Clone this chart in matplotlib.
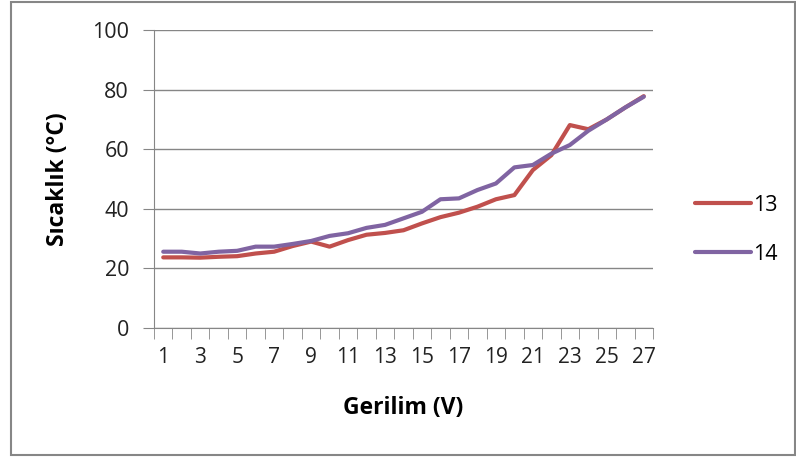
import matplotlib
matplotlib.use("Agg")
import matplotlib.pyplot as plt
from matplotlib.patches import Rectangle

# voltage steps (categories) and measured temperatures
gerilim = list(range(1, 28))
seri_13 = [23.7, 23.7, 23.6, 23.9, 24.1, 25.0, 25.6, 27.5, 29.0, 27.3, 29.5, 31.3, 31.9, 32.8,
           35.1, 37.2, 38.7, 40.7, 43.2, 44.6, 53.0, 58.0, 68.1, 66.7, 70.0, 74.0, 77.8]
seri_14 = [25.6, 25.6, 25.0, 25.6, 25.9, 27.3, 27.3, 28.2, 29.2, 30.9, 31.8, 33.6, 34.6, 36.8,
           39.0, 43.2, 43.5, 46.3, 48.5, 53.9, 54.7, 58.5, 61.4, 66.2, 70.0, 74.0, 77.6]
xtick_labels = [str(v) for v in gerilim[::2]]
yticks = [0, 20, 40, 60, 80, 100]

plt.rcParams["font.family"] = ["Open Sans", "DejaVu Sans"]
fig = plt.figure(figsize=(7.96, 4.59), dpi=100)
ax = fig.add_axes([154/796, 1-328/459, 499/796, 298/459])

xs = list(range(len(gerilim)))
ax.plot(xs, seri_13, color="#C0504D", lw=3.0, label="13", solid_capstyle="round", zorder=3)
ax.plot(xs, seri_14, color="#8064A2", lw=3.0, label="14", solid_capstyle="round", zorder=4)

ax.set_xlim(-0.5, len(gerilim) - 0.5)
ax.set_ylim(0, 100)
ax.set_yticks(yticks)
ax.set_yticklabels([str(v) for v in yticks])
ax.set_xticks(xs[::2])
ax.set_xticklabels(xtick_labels)
ax.set_xticks([i - 0.5 for i in range(len(gerilim) + 1)], minor=True)
ax.tick_params(axis="x", which="major", length=0, labelsize=15, pad=14, colors="#222")
ax.tick_params(axis="x", which="minor", length=8, color="#868686", direction="out")
ax.tick_params(axis="y", length=8, color="#868686", labelsize=15.5, pad=10, labelcolor="#222")
ax.grid(axis="y", color="#868686", lw=1)
ax.set_axisbelow(True)
for s in ["top", "right"]:
    ax.spines[s].set_visible(False)
for s in ["left", "bottom"]:
    ax.spines[s].set_color("#868686")

ax.set_xlabel("Gerilim (V)", fontsize=16.5, fontweight="bold", labelpad=20)
ax.set_ylabel("Sıcaklık (°C)", fontsize=16.5, fontweight="bold", labelpad=16)

fig.legend(loc="center left", bbox_to_anchor=(676/796, 1-230/459), frameon=False,
           fontsize=15.5, handlelength=2.6, handletextpad=0.1, labelspacing=1.3)

fig.patches.append(Rectangle((11/796, 1-455/459), 784/796, 453/459, transform=fig.transFigure,
                             fill=False, edgecolor="#868686", lw=1.5))

fig.savefig("out.png", dpi=100)
